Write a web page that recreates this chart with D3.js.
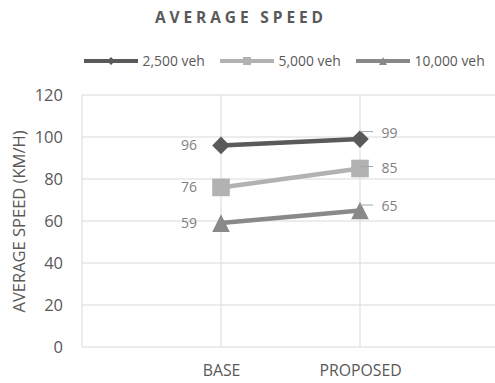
<!DOCTYPE html>
<html><head><meta charset="utf-8">
<script src="https://cdn.jsdelivr.net/npm/d3@7"></script>
<style>body{margin:0;background:#fff}svg{display:block}text{font-family:"Open Sans","Noto Sans",sans-serif}</style>
</head><body><svg id="c" width="495" height="383"></svg>
<script>
const categories = ["BASE", "PROPOSED"];
const seriesNames = ["2,500 veh", "5,000 veh", "10,000 veh"];
const series1 = [96, 99];
const series2 = [76, 85];
const series3 = [59, 65];
const yTicks = [0, 20, 40, 60, 80, 100, 120];
const title = "AVERAGE SPEED";
const yTitle = "AVERAGE SPEED (KM/H)";

(function () {
const colors = ["#5a5a5a", "#b2b2b2", "#898989"];
const diamond = {draw(c, s){const r=Math.sqrt(s)/2;c.moveTo(0,-r);c.lineTo(r,0);c.lineTo(0,r);c.lineTo(-r,0);c.closePath();}};
const square = {draw(c, s){const r=Math.sqrt(s)/2;c.rect(-r,-r,2*r,2*r);}};
const triangle = {draw(c, s){const r=Math.sqrt(s)/2;c.moveTo(0,-r);c.lineTo(r,r);c.lineTo(-r,r);c.closePath();}};
const symbols = [diamond, square, triangle];
const data = [series1, series2, series3];
const labelOffsets = [-6.5, -1, -4.5];

const svg = d3.select("#c");
const mL = 82, mR = 499, mT = 95, mB = 347;
const x = d3.scaleLinear().domain([0, 3]).range([mL, mR]);
const y = d3.scaleLinear().domain([0, 120]).range([mB, mT]);
const grid = "#d9d9d9", txt = "#595959", lbl = "#7f7f7f";

// grid
svg.append("g").selectAll("line").data(yTicks).join("line")
  .attr("x1", mL).attr("x2", 495).attr("y1", d => y(d)).attr("y2", d => y(d))
  .attr("stroke", grid).attr("stroke-width", 1);
svg.append("g").selectAll("line").data([0, 1, 2]).join("line")
  .attr("x1", d => x(d)).attr("x2", d => x(d)).attr("y1", mT).attr("y2", mB)
  .attr("stroke", grid).attr("stroke-width", 1);

// y axis
const yAxis = d3.axisLeft(y).tickValues(yTicks).tickSize(0).tickPadding(0);
const ga = svg.append("g").attr("transform", `translate(63,0)`).call(yAxis);
ga.select(".domain").remove();
ga.selectAll("text").attr("font-size", 16.5).attr("fill", txt).attr("font-family", "Open Sans");

// x axis
const xAxis = d3.axisBottom(x).tickValues([1, 2]).tickFormat((d) => categories[d-1]).tickSize(0).tickPadding(0);
const gx = svg.append("g").attr("transform", `translate(0,${mB+18})`).call(xAxis);
gx.select(".domain").remove();
gx.selectAll("text").attr("font-size", 15.8).attr("fill", txt).attr("font-family", "Open Sans");

// titles
svg.append("text").attr("x", 155).attr("y", 23)
  .attr("font-size", 15.5).attr("font-weight", "bold")
  .attr("textLength", 168).attr("lengthAdjust", "spacing")
  .attr("fill", txt).text(title);
svg.append("text").attr("transform", `translate(25,${(mT+mB)/2 + 0.5}) rotate(-90)`)
  .attr("text-anchor", "middle").attr("font-size", 16)
  .attr("textLength", 182).attr("lengthAdjust", "spacingAndGlyphs")
  .attr("fill", txt).text(yTitle);

// lines
const line = d3.line().x((d, i) => x(i + 1)).y(d => y(d));
data.forEach((s, k) => {
  svg.append("path").datum(s).attr("d", line).attr("fill", "none")
    .attr("stroke", colors[k]).attr("stroke-width", 4.5);
  svg.append("g").selectAll("path").data(s).join("path")
    .attr("transform", (d, i) => `translate(${x(i+1)},${y(d)})`)
    .attr("d", d3.symbol(symbols[k], 310)).attr("fill", colors[k]);
  svg.append("text").attr("x", 197).attr("y", y(s[0]) + 5)
    .attr("text-anchor", "end").attr("font-size", 14).attr("fill", lbl).text(s[0]);
  const ly = y(s[1]) + labelOffsets[k];
  svg.append("line").attr("x1", x(2)).attr("x2", x(2) + 13)
    .attr("y1", ly - 1).attr("y2", ly - 1).attr("stroke", "#a6a6a6").attr("stroke-width", 1);
  svg.append("text").attr("x", x(2) + 21.5).attr("y", ly + 5)
    .attr("font-size", 14).attr("fill", lbl).text(s[1]);
});

// legend
const legX = [84, 220, 356];
seriesNames.forEach((n, k) => {
  const g = svg.append("g").attr("transform", `translate(${legX[k]},61)`);
  g.append("line").attr("x1", 0).attr("x2", 54).attr("stroke", colors[k]).attr("stroke-width", 4);
  g.append("path").attr("transform", "translate(27,0)").attr("d", d3.symbol(symbols[k], 64)).attr("fill", colors[k]);
  g.append("text").attr("x", 58.5).attr("y", 65.5 - 61).attr("font-size", 13.9).attr("fill", txt).text(n);
});
})();
</script></body></html>
